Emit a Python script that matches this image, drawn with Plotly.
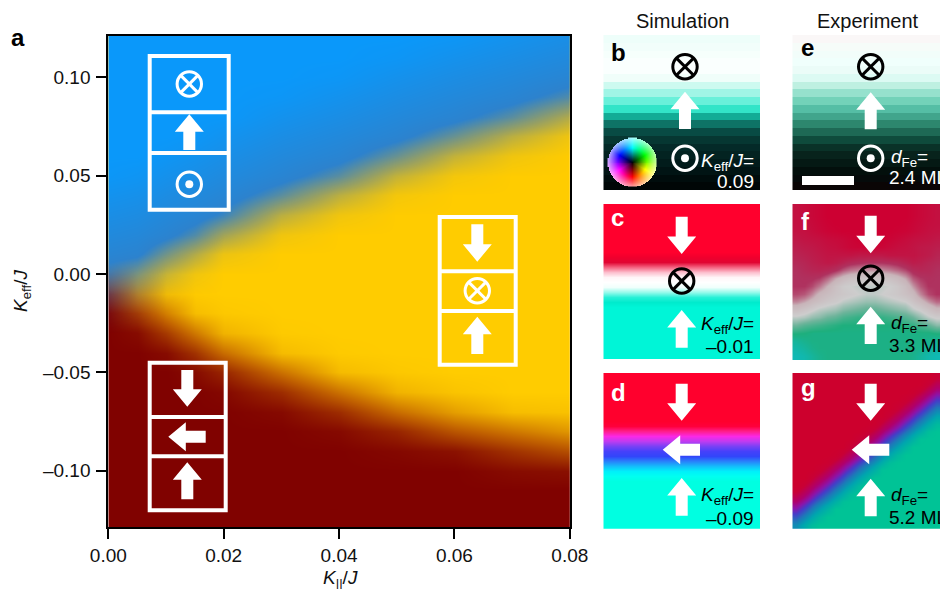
import colorsys
import math
import plotly.graph_objects as go

W, H = 940, 589

# ---------- panel a: phase diagram ----------
ku_vals = [0, 0.005, 0.01, 0.015, 0.02, 0.03, 0.04, 0.05, 0.06, 0.07, 0.08]
keff_vals = [0.12, 0.11, 0.10, 0.09, 0.08, 0.07, 0.06, 0.05, 0.04, 0.03, 0.02, 0.01, 0.0,
             -0.01, -0.02, -0.03, -0.04, -0.05, -0.06, -0.07, -0.08, -0.09, -0.10, -0.11, -0.12, -0.13]
blue_phase = [
    [100,100,100,100,100,100,100,100,95,86,77],
    [100,100,100,100,100,100,100,95,85,76,67],
    [100,100,100,100,100,100,96,85,75,66,57],
    [100,100,100,100,100,96,86,75,65,56,42],
    [100,100,100,100,99,86,76,65,55,40,19],
    [100,100,100,97,89,76,66,55,37,17,4],
    [100,100,94,87,79,66,56,37,15,4,0],
    [97,93,84,77,69,56,40,15,3,0,0],
    [87,83,74,67,59,40,17,3,0,0,0],
    [77,73,64,57,47,17,4,0,0,0,0],
    [67,63,54,42,23,4,0,0,0,0,0],
    [57,53,35,19,5,0,0,0,0,0,0],
    [42,32,14,4,0,0,0,0,0,0,0],
    [19,12,2,0,0,0,0,0,0,0,0],
    [4,2,0,0,0,0,0,0,0,0,0],
    [0,0,0,0,0,0,0,0,0,0,0],
    [0,0,0,0,0,0,0,0,0,0,0],
    [0,0,0,0,0,0,0,0,0,0,0],
    [0,0,0,0,0,0,0,0,0,0,0],
    [0,0,0,0,0,0,0,0,0,0,0],
    [0,0,0,0,0,0,0,0,0,0,0],
    [0,0,0,0,0,0,0,0,0,0,0],
    [0,0,0,0,0,0,0,0,0,0,0],
    [0,0,0,0,0,0,0,0,0,0,0],
    [0,0,0,0,0,0,0,0,0,0,0],
    [0,0,0,0,0,0,0,0,0,0,0],
]
yellow_phase = [
    [100,100,100,100,100,100,100,100,100,100,100],
    [100,100,100,100,100,100,100,100,100,100,100],
    [100,100,100,100,100,100,100,100,100,100,100],
    [100,100,100,100,100,100,100,100,100,100,100],
    [100,100,100,100,100,100,100,100,100,100,100],
    [100,100,100,100,100,100,100,100,100,100,100],
    [100,100,100,100,100,100,100,100,100,100,100],
    [100,100,100,100,100,100,100,100,100,100,100],
    [100,100,100,100,100,100,100,100,100,100,100],
    [100,100,100,100,100,100,100,100,100,100,100],
    [100,100,100,100,100,100,100,100,100,100,100],
    [100,100,100,100,100,100,100,100,100,100,100],
    [30,93,100,100,100,100,100,100,100,100,100],
    [5,64,93,99,100,100,100,100,100,100,100],
    [0,29,64,93,98,100,100,100,100,100,100],
    [0,5,29,60,88,99,100,100,100,100,100],
    [0,0,5,25,54,92,99,100,100,100,100],
    [0,0,0,5,18,57,92,98,100,100,100],
    [0,0,0,0,3,22,57,88,96,100,100],
    [0,0,0,0,0,4,22,54,78,93,95],
    [0,0,0,0,0,0,4,18,43,60,75],
    [0,0,0,0,0,0,0,3,8,25,40],
    [0,0,0,0,0,0,0,0,0,5,7],
    [0,0,0,0,0,0,0,0,0,0,0],
    [0,0,0,0,0,0,0,0,0,0,0],
    [0,0,0,0,0,0,0,0,0,0,0],
]
x_ticks = [0, 0.02, 0.04, 0.06, 0.08]
x_ticktext = ["0.00", "0.02", "0.04", "0.06", "0.08"]
y_ticks = [-0.10, -0.05, 0.0, 0.05, 0.10]
y_ticktext = ["–0.10", "–0.05", "0.00", "0.05", "0.10"]

# ---------- simulation / experiment stripes (RGB per row, top to bottom) ----------
rows_b = [(238,254,250),(242,254,251),(246,255,252),(250,255,254),(250,255,254),(240,254,250),
          (205,250,240),(160,245,230),(105,240,218),(50,228,200),(18,172,150),(14,115,102),
          (8,75,68),(6,55,50),(4,42,40),(3,35,33),(2,28,27),(1,20,20),(0,12,12),(0,6,6)]
rows_c = [(255,0,45)]*10 + [(240,0,45),(225,5,50),(245,100,130),(252,190,205),(255,245,248),
          (255,255,255),(240,255,252),(150,250,235),(40,240,215),(0,235,205)] + [(0,245,215)]*11
rows_d = [(255,0,45)]*10 + [(255,0,60),(255,30,140),(250,40,230),(190,60,240),(120,65,245),
          (70,65,250),(50,70,250),(40,130,250),(20,190,250),(0,240,250),(0,255,240)] + [(0,255,225)]*10
rows_e = [(250,247,247),(246,252,249),(242,253,250),(240,255,252),(235,252,248),(220,250,243),
          (190,240,225),(150,225,205),(115,210,185),(85,190,165),(65,165,140),(45,135,110),
          (30,105,85),(15,75,60),(10,50,40),(8,35,28),(5,25,20),(3,15,12),(5,10,10),(10,5,5)]

# ---------- experiment maps on the measured pixel grid ----------
grid_f = [
 [8,6,4,2,0,0,0,0,0,0,0,0,0,0,0,2,4,6,8],
 [8,6,4,2,0,0,0,0,0,0,0,0,0,0,0,2,4,6,8],
 [8,7,5,3,1,0,0,0,0,0,0,0,0,0,1,3,5,7,8],
 [9,8,6,4,2,1,0,0,0,0,0,0,0,1,2,4,6,8,9],
 [12,10,9,8,6,5,4,2,0,0,0,0,2,4,6,8,9,10,12],
 [15,13,12,10,8,7,5,3,2,2,2,3,5,7,8,10,12,13,15],
 [18,16,14,12,10,10,10,10,12,12,12,12,10,10,10,10,12,14,18],
 [21,19,16,14,12,14,18,22,24,25,25,25,24,22,18,14,16,19,21],
 [24,21,19,18,20,24,30,34,36,38,38,37,35,32,28,22,20,21,24],
 [25,24,24,26,32,40,46,50,52,54,54,52,50,46,40,30,26,24,25],
 [25,25,28,34,42,50,56,58,60,60,60,60,58,54,48,38,30,25,25],
 [28,30,36,44,48,52,54,56,58,60,60,58,56,54,50,46,36,28,25],
 [36,40,46,50,54,56,60,62,64,66,66,64,62,60,58,52,46,38,32],
 [48,52,56,60,62,64,68,70,72,74,74,72,70,68,66,60,56,50,44],
 [60,62,66,68,72,74,78,80,82,82,82,82,80,78,76,72,66,60,56],
 [72,76,78,80,82,84,86,86,86,86,86,86,86,86,84,82,78,74,68],
 [85,86,88,88,88,88,88,88,88,88,88,88,88,88,88,88,87,87,85],
 [93,90,88,88,88,88,88,88,88,88,88,88,88,88,88,88,88,90,93],
 [97,94,90,88,88,88,88,88,88,88,88,88,88,88,88,88,90,94,97],
 [100,98,94,90,88,88,88,88,88,88,88,88,88,88,88,90,94,98,100],
]
grid_g = [
 [0,0,0,0,0,0,0,0,0,0,0,0,0,0,0,0,0,0,10],
 [0,0,0,0,0,0,0,0,0,0,0,0,0,0,0,0,1,13,24],
 [0,0,0,0,0,0,0,0,0,0,0,0,0,0,0,4,15,27,38],
 [0,0,0,0,0,0,0,0,0,0,0,0,0,0,7,18,29,41,52],
 [0,0,0,0,0,0,0,0,0,0,0,0,0,9,21,32,43,55,66],
 [0,0,0,0,0,0,0,0,0,0,0,1,12,23,35,46,57,69,80],
 [0,0,0,0,0,0,0,0,0,0,3,15,26,37,49,60,71,83,94],
 [0,0,0,0,0,0,0,0,0,6,17,29,40,51,63,74,85,97,100],
 [0,0,0,0,0,0,0,0,9,20,31,43,54,65,77,88,99,100,100],
 [0,0,0,0,0,0,0,11,23,34,45,57,68,79,91,100,100,100,100],
 [0,0,0,0,0,3,14,25,37,48,59,71,82,93,100,100,100,100,100],
 [0,0,0,0,5,17,28,39,51,62,73,85,96,100,100,100,100,100,100],
 [0,0,0,8,19,31,42,53,65,76,87,99,100,100,100,100,100,100,100],
 [0,0,11,22,33,45,56,67,79,90,100,100,100,100,100,100,100,100,100],
 [2,13,25,36,47,59,70,81,93,100,100,100,100,100,100,100,100,100,100],
 [16,27,39,50,61,73,84,95,100,100,100,100,100,100,100,100,100,100,100],
 [30,41,53,64,75,87,98,100,100,100,100,100,100,100,100,100,100,100,100],
 [44,55,67,78,89,100,100,100,100,100,100,100,100,100,100,100,100,100,100],
 [58,69,81,92,100,100,100,100,100,100,100,100,100,100,100,100,100,100,100],
 [72,83,95,100,100,100,100,100,100,100,100,100,100,100,100,100,100,100,100],
]

FONT = "Liberation Sans, Arial, Helvetica, sans-serif"
fig = go.Figure()


def dom_x(a, b):
    return [a / W, b / W]


def dom_y(top, bottom):
    return [1 - bottom / H, 1 - top / H]


# Main panel
fig.add_trace(go.Heatmap(
    x=ku_vals, y=keff_vals, z=yellow_phase, zmin=0, zmax=100, zsmooth="best", showscale=False,
    hoverinfo="skip", colorscale=[[0, "rgb(128,2,0)"], [0.5, "rgb(195,100,0)"], [1, "rgb(255,204,0)"]],
    xaxis="x", yaxis="y"))
fig.add_trace(go.Heatmap(
    x=ku_vals, y=keff_vals, z=blue_phase, zmin=0, zmax=100, zsmooth="best", showscale=False,
    hoverinfo="skip",
    colorscale=[[0, "rgba(60,120,180,0)"], [0.06, "rgba(65,122,178,0.12)"], [0.25, "rgba(70,125,175,0.55)"],
                [0.5, "rgba(45,130,205,1)"], [1, "rgba(10,152,250,1)"]],
    xaxis="x", yaxis="y"))

layout = dict(
    template="none",
    width=W, height=H, margin=dict(l=0, r=0, t=0, b=0), paper_bgcolor="white", plot_bgcolor="rgba(0,0,0,0)",
    showlegend=False, font=dict(family=FONT, size=19, color="#111111"),
    xaxis=dict(domain=dom_x(108.3, 569.8), range=[0, 0.08], tickvals=x_ticks, ticktext=x_ticktext,
               ticks="outside", ticklen=10, tickwidth=2, tickcolor="black", showline=True, linewidth=2,
               linecolor="black", mirror=True, showgrid=False, zeroline=False, anchor="y",
               tickfont=dict(size=19)),
    yaxis=dict(domain=dom_y(36, 527), range=[-0.1286, 0.1210], tickvals=y_ticks, ticktext=y_ticktext,
               ticks="outside", ticklen=10, tickwidth=2, tickcolor="black", showline=True, linewidth=2,
               linecolor="black", mirror=True, showgrid=False, zeroline=False, anchor="x",
               tickfont=dict(size=19), ticklabelstandoff=2),
)

panels = [
    ("b", 603.3, 760, 35, 190),
    ("c", 603.3, 760, 204, 359.3),
    ("d", 603.3, 760, 373, 528.7),
    ("e", 792.3, 940, 35, 190),
    ("f", 792.3, 940, 204, 360),
    ("g", 792.3, 940, 373, 528.7),
]
F_SCALE = [[0, "rgb(205,0,50)"], [0.25, "rgb(175,50,95)"], [0.42, "rgb(200,180,185)"], [0.58, "rgb(205,205,205)"],
           [0.72, "rgb(110,180,155)"], [0.86, "rgb(30,175,125)"], [1, "rgb(15,185,180)"]]
G_SCALE = [[0, "rgb(205,0,45)"], [0.12, "rgb(200,0,55)"], [0.3, "rgb(175,0,110)"], [0.42, "rgb(140,20,170)"],
           [0.52, "rgb(70,60,200)"], [0.65, "rgb(30,120,185)"], [0.8, "rgb(0,165,175)"], [1, "rgb(0,195,150)"]]


def palette_scale(rows):
    n = len(rows) - 1
    return [[i / n, "rgb(%d,%d,%d)" % c] for i, c in enumerate(rows)]


sources = {
    "b": ("rows", rows_b, False), "c": ("rows", rows_c, "best"), "d": ("rows", rows_d, "best"),
    "e": ("rows", rows_e, False), "f": ("grid", grid_f, F_SCALE), "g": ("grid", grid_g, G_SCALE),
}
for idx, (name, x0, x1, y0, y1) in enumerate(panels, start=2):
    kind, data, opt = sources[name]
    if kind == "rows":
        n = len(data) - 1
        tr = go.Heatmap(z=[[i / n, i / n] for i in range(len(data))], x=[0, 1], y=list(range(len(data))),
                        zmin=0, zmax=1, colorscale=palette_scale(data), showscale=False,
                        zsmooth=opt, hoverinfo="skip", xaxis=f"x{idx}", yaxis=f"y{idx}")
        xr = [0, 1] if opt else [-0.5, 1.5]
        yr = [len(data) - 0.5, -0.5]
    else:
        tr = go.Heatmap(z=data, zmin=0, zmax=100, colorscale=opt, showscale=False, zsmooth="best",
                        hoverinfo="skip", xaxis=f"x{idx}", yaxis=f"y{idx}")
        xr = [-0.5, len(data[0]) - 0.5]
        yr = [len(data) - 0.5, -0.5]
    fig.add_trace(tr)
    layout[f"xaxis{idx}"] = dict(domain=dom_x(x0, x1), range=xr, visible=False, anchor=f"y{idx}")
    layout[f"yaxis{idx}"] = dict(domain=dom_y(y0, y1), range=yr, visible=False, anchor=f"x{idx}")

# Overlay axes in page pixels for the spin diagrams and the colour wheel
layout["xaxis8"] = dict(domain=[0, 1], range=[0, W], visible=False, anchor="y8", fixedrange=True)
layout["yaxis8"] = dict(domain=[0, 1], range=[H, 0], visible=False, anchor="x8", fixedrange=True)

# Colour wheel key in panel b
wheel = []
WN = 50
for j in range(WN):
    row = []
    for i in range(WN):
        dx = (i + 0.5 - WN / 2) / (WN / 2)
        dy = (WN / 2 - j - 0.5) / (WN / 2)
        r = math.hypot(dx, dy)
        hue = ((math.degrees(math.atan2(dy, dx)) + 90) % 360) / 360
        if r <= 0.6:
            rgb = colorsys.hsv_to_rgb(hue, 1, r / 0.6)
        else:
            rgb = colorsys.hsv_to_rgb(hue, 1 - (r - 0.6) / 0.4 * 0.65, 1)
        row.append([int(v * 255) for v in rgb] + [1 if r <= 1 else 0])
    wheel.append(row)
fig.add_trace(go.Image(z=wheel, colormodel="rgba", x0=608, y0=138, dx=49 / WN, dy=49 / WN,
                       hoverinfo="skip", xaxis="x8", yaxis="y8"))

shapes = []


def sh(**kw):
    kw.update(xref="x8", yref="y8", layer="above")
    shapes.append(kw)


def arrow(cx, cy0, cy1, color="white"):
    """vertical arrow from tail cy0 to apex cy1"""
    s = 1 if cy1 > cy0 else -1
    neck = cy1 - s * 17.5
    sh(type="path", fillcolor=color, line=dict(width=0),
       path=f"M{cx-6},{cy0} L{cx+6},{cy0} L{cx+6},{neck} L{cx+14.5},{neck} L{cx},{cy1} "
            f"L{cx-14.5},{neck} L{cx-6},{neck} Z")


def arrow_left(x_apex, x_tail, cy, color="white"):
    neck = x_apex + 17.5
    sh(type="path", fillcolor=color, line=dict(width=0),
       path=f"M{x_tail},{cy-6} L{x_tail},{cy+6} L{neck},{cy+6} L{neck},{cy+14.5} L{x_apex},{cy} "
            f"L{neck},{cy-14.5} L{neck},{cy-6} Z")


def ring(cx, cy, color):
    r = 12.2
    sh(type="circle", x0=cx - r, x1=cx + r, y0=cy - r, y1=cy + r, line=dict(color=color, width=3),
       fillcolor="rgba(0,0,0,0)")


def cross_in(cx, cy, color):
    ring(cx, cy, color)
    d = 8.6
    sh(type="line", x0=cx - d, x1=cx + d, y0=cy - d, y1=cy + d, line=dict(color=color, width=3))
    sh(type="line", x0=cx - d, x1=cx + d, y0=cy + d, y1=cy - d, line=dict(color=color, width=3))


def dot_in(cx, cy, color):
    ring(cx, cy, color)
    r = 4
    sh(type="circle", x0=cx - r, x1=cx + r, y0=cy - r, y1=cy + r, fillcolor=color, line=dict(width=0))


def box(x0, x1, y0, y1, d1, d2):
    lw = dict(color="white", width=4)
    sh(type="rect", x0=x0, x1=x1, y0=y0, y1=y1, line=lw, fillcolor="rgba(0,0,0,0)")
    sh(type="line", x0=x0, x1=x1, y0=d1, y1=d1, line=lw)
    sh(type="line", x0=x0, x1=x1, y0=d2, y1=d2, line=lw)


# Boxes in the main panel
box(149.7, 228.7, 56, 209.7, 112.3, 153)
cross_in(189.3, 84, "white"); arrow(189.3, 150, 114.3); dot_in(189.3, 184.3, "white")
box(439.7, 515.7, 217, 364.7, 271.3, 311)
arrow(477.3, 224.3, 261.7); cross_in(477.3, 290.7, "white"); arrow(477.3, 354, 316.7)
box(149.7, 225.7, 362.7, 510.3, 417, 456.3)
arrow(187.3, 370, 406.7); arrow_left(168.3, 205.7, 436.7); arrow(187.3, 499.3, 462.3)

# Panel symbols
cross_in(685, 66.7, "black"); arrow(685, 129, 91.7); dot_in(685, 158.3, "white")
arrow(681.7, 216.7, 254); cross_in(681.7, 281, "black"); arrow(681.7, 347.7, 310)
arrow(681.7, 383.7, 420.7); arrow_left(662.7, 700, 449.7); arrow(681.7, 515.7, 478)
cross_in(870.7, 66.7, "black"); arrow(870.7, 129.3, 92.3); dot_in(870.7, 158.3, "white")
arrow(870.7, 215.7, 253.3); cross_in(870.7, 278.3, "black"); arrow(870.7, 344, 306.7)
arrow(870.7, 383.7, 420.7); arrow_left(851.7, 889.3, 449.7); arrow(870.7, 516.3, 478.7)
# Scale bar in panel e
sh(type="rect", x0=802, x1=854, y0=176, y1=185, fillcolor="white", line=dict(width=0))

annotations = []


def text(s, x, y, size=19, color="#111111", xanchor="left", angle=0):
    annotations.append(dict(text=s, x=x / W, y=1 - y / H, xref="paper", yref="paper", showarrow=False,
                            xanchor=xanchor, yanchor="middle", textangle=angle,
                            font=dict(family=FONT, size=size, color=color)))


KEFF = "<i>K</i><sub>eff</sub>/<i>J</i>="
DFE = "<i>d</i><sub>Fe</sub>="
text("<b>a</b>", 9, 38, 24, "black")
for lab, x, y, col in [("b", 609, 53, "black"), ("c", 609, 218, "white"), ("d", 609, 392, "white"),
                       ("e", 799, 48, "black"), ("f", 799, 221, "white"), ("g", 799, 387, "white")]:
    text(f"<b>{lab}</b>", x, y, 24, col)
text("Simulation", 682, 21, 20, xanchor="center")
text("Experiment", 868, 21, 20, xanchor="center")
text("<i>K</i><sub>||</sub>/<i>J</i>", 340, 579, 19, xanchor="center")
text("<i>K</i><sub>eff</sub>/<i>J</i>", 22, 291, 19, xanchor="center", angle=-90)
text(KEFF, 756, 162, 19, "white", "right"); text("0.09", 756, 181.7, 19, "white", "right")
text(KEFF, 756, 325, 19, "black", "right"); text("–0.01", 756, 346.7, 19, "black", "right")
text(KEFF, 756, 496.3, 19, "black", "right"); text("–0.09", 756, 518.7, 19, "black", "right")
text(DFE, 889, 157.7, 19, "white"); text("2.4 ML", 887.3, 177.7, 19, "white")
text(DFE, 889, 324.3, 19, "black"); text("3.3 ML", 887.3, 345, 19, "black")
text(DFE, 889, 496.3, 19, "black"); text("5.2 ML", 887.3, 517.3, 19, "black")

layout["shapes"] = shapes
layout["annotations"] = annotations
fig.update_layout(**layout)
fig.write_html("out.html", config={"displayModeBar": False},
               post_script="document.body.style.margin='0';document.body.style.overflow='hidden';")
